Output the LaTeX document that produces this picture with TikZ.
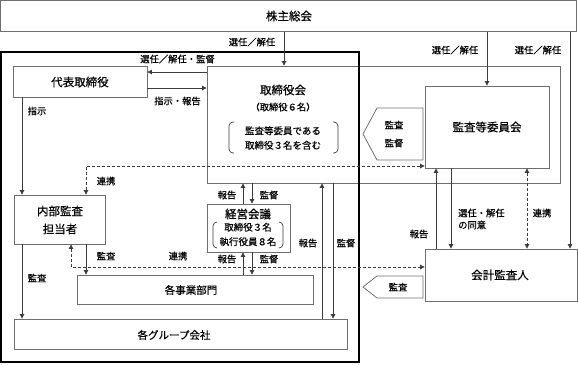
\documentclass[tikz,border=0pt]{standalone}
\usepackage{fontspec}
\setmainfont{Noto Sans CJK JP}[FakeBold=0.5]
\usepackage{tikz}
\usetikzlibrary{arrows.meta,positioning}
\definecolor{boxline}{HTML}{6E6E6E}
\definecolor{wire}{HTML}{3C3C3C}

\tikzset{
  box/.style={draw=boxline,line width=0.8pt,inner sep=0pt},
  ttl/.style={font=\fontsize{11.5}{18}\selectfont,inner sep=0pt,align=center},
  sub/.style={font=\fontsize{9.5}{14.5}\selectfont,inner sep=0pt,align=center},
  lbl/.style={font=\fontsize{9.3}{12}\selectfont,inner sep=0pt},
  arr/.style={draw=wire,line width=0.7pt,-{Triangle[length=4.5pt,width=4.5pt]}},
  darr/.style={arr,dashed,dash pattern=on 3pt off 2pt,{Triangle[length=4.5pt,width=4.5pt]}-{Triangle[length=4.5pt,width=4.5pt]}},
  brk/.style={draw=wire,line width=0.7pt,rounded corners=4pt},
}

\begin{document}
\begin{tikzpicture}[x=1pt,y=-1pt]
\useasboundingbox (0,0) rectangle (578,364);

% boxes
\node[box,minimum width=576pt,minimum height=31pt] (kabu) at (288.75,16.25) {};
\node[ttl] (kabutxt) at (289,16) {株主総会};
\node[box,minimum width=353pt,minimum height=117pt] (board) at (383.5,124.5) {};
\node[ttl] (boardtxt) at (283,90) {取締役会};
\node[lbl] (boardnum) at (283,107) {（取締役６名）};
\node[sub] (boardinc) at (283,138) {監査等委員である\\取締役３名を含む};
\draw[brk] (234,122) -- (229,122) -- (229,153) -- (234,153);
\draw[brk] (333,122) -- (338,122) -- (338,153) -- (333,153);
\node[box,minimum width=134pt,minimum height=31pt] (daihyo) at (80,81.5) {};
\node[ttl] (daihyotxt) at (80,82) {代表取締役};
\node[box,fill=white,minimum width=124pt,minimum height=82pt] (kansa) at (487,127) {};
\node[ttl] (kansatxt) at (487,127) {監査等委員会};
\node[box,minimum width=152pt,minimum height=52pt] (kaikei) at (501,275) {};
\node[ttl] (kaikeitxt) at (500,275) {会計監査人};
\node[box,minimum width=91pt,minimum height=49pt] (naibu) at (59.5,219.5) {};
\node[ttl] (naibutxt) at (60,220) {内部監査\\担当者};
\node[box,minimum width=83pt,minimum height=48pt] (keiei) at (248.5,228) {};
\node[ttl] (keieitxt) at (248,214) {経営会議};
\node[sub] (keieimem) at (248,234.5) {取締役３名\\執行役員８名};
\draw[brk] (217,222) -- (213,222) -- (213,248) -- (217,248);
\draw[brk] (279,222) -- (283,222) -- (283,248) -- (279,248);
\node[box,minimum width=236pt,minimum height=29pt] (jigyo) at (195,289.5) {};
\node[ttl,font=\fontsize{10.5}{13}\selectfont] (jigyotxt) at (191,290) {各事業部門};
\node[box,minimum width=333pt,minimum height=30pt] (group) at (180.5,334) {};
\node[ttl,font=\fontsize{10.5}{13}\selectfont] (grouptxt) at (174,335) {各グループ会社};

% company frame
\draw[line width=1.4pt] (1,52) rectangle (359,362);

% audit tags
\draw[box] (423,108) -- (377,108) -- (363,134) -- (377,160) -- (423,160) -- cycle;
\node[lbl,align=center,font=\fontsize{9.3}{18}\selectfont] (tagup) at (394,134) {監査\\監督};
\draw[box] (423,276) -- (377,276) -- (363,287) -- (377,298) -- (423,298) -- cycle;
\node[lbl] (tagdn) at (398,287) {監査};

% lanes
\coordinate (xsel) at (284,0);
\coordinate (xacc) at (570,0);
\coordinate (yup) at (0,72);
\coordinate (ydn) at (0,88);
\coordinate (xshiji) at (22,0);
\coordinate (xaudit) at (86,0);
\coordinate (xlink) at (71,0);
\coordinate (ylinkA) at (0,166);
\coordinate (ylinkB) at (0,267);
\coordinate (xrep) at (243,0);
\coordinate (xsup) at (252,0);
\coordinate (xgrep) at (322,0);
\coordinate (xgsup) at (333,0);
\coordinate (xarep) at (436,0);
\coordinate (xasel) at (451,0);
\coordinate (xalink) at (527,0);

% connectors
\draw[arr] (kabu.south -| xsel) -- (board.north -| xsel);
\draw[arr] (kabu.south -| kansa.north) -- (kansa.north);
\draw[arr] (kabu.south -| xacc) -- (kaikei.north -| xacc);
\draw[arr] (board.west |- yup) -- (daihyo.east |- yup);
\draw[arr] (daihyo.east |- ydn) -- (board.west |- ydn);
\draw[arr] (daihyo.south -| xshiji) -- (naibu.north -| xshiji);
\draw[darr] (naibu.north -| xaudit) -- (xaudit |- ylinkA) -- (kansa.west |- ylinkA);
\draw[arr] (keiei.north -| xrep) -- (board.south -| xrep);
\draw[arr] (board.south -| xsup) -- (keiei.north -| xsup);
\draw[arr] (jigyo.north -| xrep) -- (keiei.south -| xrep);
\draw[arr] (keiei.south -| xsup) -- (jigyo.north -| xsup);
\draw[arr] (naibu.south -| xshiji) -- (group.north -| xshiji);
\draw[arr] (naibu.south -| xaudit) -- (jigyo.north -| xaudit);
\draw[darr] (naibu.south -| xlink) -- (xlink |- ylinkB) -- (kaikei.west |- ylinkB);
\draw[arr] (group.north -| xgrep) -- (board.south -| xgrep);
\draw[arr] (board.south -| xgsup) -- (group.north -| xgsup);
\draw[arr] (kaikei.north -| xarep) -- (kansa.south -| xarep);
\draw[arr] (kansa.south -| xasel) -- (kaikei.north -| xasel);
\draw[darr] (kansa.south -| xalink) -- (kaikei.north -| xalink);

% labels
\node[lbl] (l1) at (252,42) {選任／解任};
\node[lbl] (l2) at (455,50) {選任／解任};
\node[lbl] (l3) at (538,50) {選任／解任};
\node[lbl] (l4) at (177.5,59) {選任／解任・監督};
\node[lbl] (l5) at (177.5,101) {指示・報告};
\node[lbl] (l6) at (37,111) {指示};
\node[lbl] (l7) at (106,181) {連携};
\node[lbl] (l8) at (227,195) {報告};
\node[lbl] (l9) at (269,195) {監督};
\node[lbl] (l10) at (227,259) {報告};
\node[lbl] (l11) at (269,259) {監督};
\node[lbl] (l12) at (37,278) {監査};
\node[lbl] (l13) at (106,256) {監査};
\node[lbl] (l14) at (178,256) {連携};
\node[lbl] (l15) at (308,243) {報告};
\node[lbl] (l16) at (346,243) {監督};
\node[lbl] (l17) at (419,234) {報告};
\node[lbl,anchor=west,align=left] (l18) at (458,219) {選任・解任\\の同意};
\node[lbl] (l19) at (542,213) {連携};
\end{tikzpicture}
\end{document}
